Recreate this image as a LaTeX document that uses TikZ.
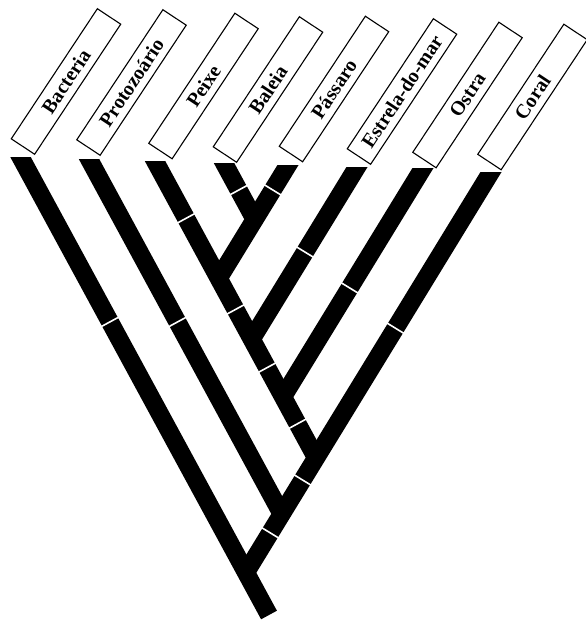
\documentclass[tikz,border=0pt]{standalone}
\usepackage{fontspec}
\setmainfont{Liberation Serif}
\usetikzlibrary{calc}
\newcommand\leafbar[4]{\begin{scope}\clip (-50,#4) rectangle (650,700);\draw[limb] ($(#1)!-12pt!(#2)$) -- (#3);\end{scope}}
\begin{document}
\begin{tikzpicture}[x=1pt,y=-1pt,
  limb/.style={line width=18pt, line cap=butt, draw=black},
  gapmark/.style={fill=white, draw=none, minimum width=1.6pt, minimum height=26pt, inner sep=0pt, sloped},
  namebox/.style={draw=black, line width=1.1pt, rotate=56.5, minimum width=156pt, minimum height=28pt, inner sep=0pt, font=\fontsize{20}{20}\selectfont\bfseries}]
\useasboundingbox (0,0) rectangle (586,622);
% leaf tops
\coordinate (Tbac) at (20.5,157);
\coordinate (Tpro) at (89,159);
\coordinate (Tpei) at (155,161);
\coordinate (Tbal) at (224,163);
\coordinate (Tpas) at (288,165);
\coordinate (Test) at (357,167);
\coordinate (Tost) at (423,168);
\coordinate (Tcor) at (491,172);
% direction points
\coordinate (Fbac) at ($(Tbac)+(100,184.3)$);
\coordinate (Fpro) at ($(Tpro)+(100,184.3)$);
\coordinate (Fpei) at ($(Tpei)+(100,184.3)$);
\coordinate (Fbal) at ($(Tbal)+(100,184.3)$);
\coordinate (Fpas) at ($(Tpas)+(-100,163.4)$);
\coordinate (Fest) at ($(Test)+(-100,163.4)$);
\coordinate (Fost) at ($(Tost)+(-100,163.4)$);
\coordinate (Fcor) at ($(Tcor)+(-100,163.4)$);
% junctions
\coordinate (J1) at (intersection of Tbal--Fbal and Tpas--Fpas);
\coordinate (Jbp) at (intersection of Tpei--Fpei and Tpas--Fpas);
\coordinate (Je) at (intersection of Tpei--Fpei and Test--Fest);
\coordinate (Jo) at (intersection of Tpei--Fpei and Tost--Fost);
\coordinate (Jc) at (intersection of Tpei--Fpei and Tcor--Fcor);
\coordinate (Jp) at (intersection of Tpro--Fpro and Tcor--Fcor);
\coordinate (Jb) at (intersection of Tbac--Fbac and Tcor--Fcor);
\coordinate (R) at (269,615);
% branches
\leafbar{Tbac}{Fbac}{R}{157}
\leafbar{Tpro}{Fpro}{Jp}{159}
\leafbar{Tpei}{Fpei}{Jc}{161}
\leafbar{Tbal}{Fbal}{J1}{163}
\leafbar{Tpas}{Fpas}{Jbp}{165}
\leafbar{Test}{Fest}{Je}{167}
\leafbar{Tost}{Fost}{Jo}{168}
\leafbar{Tcor}{Fcor}{Jb}{172}
% cracks
\path (Tbac) -- (R) node[gapmark,pos=0.36] (g1) {};
\path (Tpro) -- (Jp) node[gapmark,pos=0.459] (g2) {};
\path (Tpei) -- (Jc) node[gapmark,pos=0.193] (g3) {} node[gapmark,pos=0.5] (g4) {} node[gapmark,pos=0.696] (g5) {} node[gapmark,pos=0.885] (g6) {};
\path (Tbal) -- (J1) node[gapmark,pos=0.479] (g7) {};
\path (Tpas) -- (Jbp) node[gapmark,pos=0.22] (g8) {};
\path (Test) -- (Je) node[gapmark,pos=0.494] (g9) {};
\path (Tost) -- (Jo) node[gapmark,pos=0.524] (g10) {};
\path (Tcor) -- (Jb) node[gapmark,pos=0.39] (g11) {} node[gapmark,pos=0.769] (g12) {} node[gapmark,pos=0.901] (g13) {};
% labels
\node[namebox] (Lbac) at (66,81.5) {Bacteria};
\node[namebox] (Lpro) at (131.5,82.5) {Protozoário};
\node[namebox] (Lpei) at (203.5,86) {Peixe};
\node[namebox] (Lbal) at (268,89.5) {Baleia};
\node[namebox] (Lpas) at (334,89) {Pássaro};
\node[namebox] (Lest) at (402,91.5) {Estrela-do-mar};
\node[namebox] (Lost) at (467.5,95) {Ostra};
\node[namebox] (Lcor) at (532.5,97) {Coral};
\end{tikzpicture}
\end{document}
